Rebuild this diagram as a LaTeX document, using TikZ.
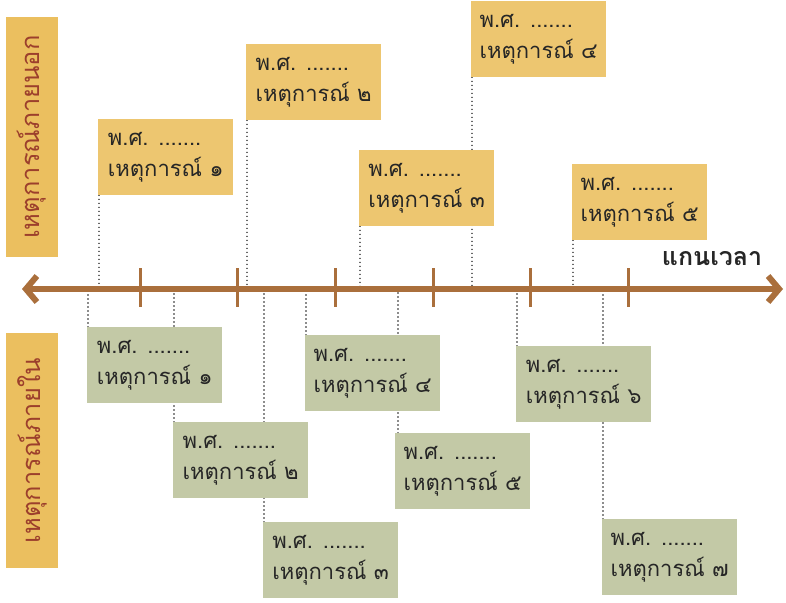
\documentclass[tikz,border=0pt]{standalone}
\usepackage{fontspec}
\newfontfamily\thaifont[Script=Thai]{Loma}
\usetikzlibrary{arrows.meta,backgrounds}

\definecolor{jaune}{HTML}{EDC670}
\definecolor{jauneT}{HTML}{EBBF5F}
\definecolor{vert}{HTML}{C3C9A6}
\definecolor{brun}{HTML}{AA6F3C}
\definecolor{rouille}{HTML}{9C3F2C}

\tikzset{evenement/.style = {fill=#1, anchor=north west,
                             minimum width=135pt, minimum height=76pt,
                             inner xsep=0pt, align=left,
                             text=black!85,
                             font=\thaifont\fontsize{22}{31}\selectfont},
         evenement/.default=jaune,
         pointille/.style = {line width=1.6pt, black!90, line cap=round,
                             dash pattern=on 0pt off 4pt},
         titre/.style = {fill=jauneT, rotate=90, text=rouille,
                         minimum height=52pt,
                         font=\thaifont\fontsize{25.5}{28}\selectfont}
        }

\begin{document}
\begin{tikzpicture}[x=1pt,y=-1pt]
  \useasboundingbox (0,0) rectangle (786,602);
  % titres
  \node[titre, minimum width=240pt] (exterieur) at (32,137) {เหตุการณ์ภายนอก};
  \node[titre, minimum width=235pt] (interieur) at (32,450.5) {เหตุการณ์ภายใน};
  % axe
  \coordinate (axeG) at (22,289);
  \coordinate (axeD) at (783,289);
  \node[font=\thaifont\bfseries\fontsize{25}{28}\selectfont, text=black!85] (nomAxe) at (712,259) {แกนเวลา};
  % evenements exterieurs
  \node[evenement] (h1) at (98,119)  {พ.ศ. .......\\เหตุการณ์ ๑};
  \node[evenement] (h2) at (246,44)  {พ.ศ. .......\\เหตุการณ์ ๒};
  \node[evenement] (h3) at (359,150) {พ.ศ. .......\\เหตุการณ์ ๓};
  \node[evenement] (h4) at (471,1)   {พ.ศ. .......\\เหตุการณ์ ๔};
  \node[evenement] (h5) at (572,164) {พ.ศ. .......\\เหตุการณ์ ๕};
  % evenements interieurs
  \node[evenement=vert] (b1) at (87,327)  {พ.ศ. .......\\เหตุการณ์ ๑};
  \node[evenement=vert] (b2) at (173,422) {พ.ศ. .......\\เหตุการณ์ ๒};
  \node[evenement=vert] (b3) at (263,522) {พ.ศ. .......\\เหตุการณ์ ๓};
  \node[evenement=vert] (b4) at (305,335) {พ.ศ. .......\\เหตุการณ์ ๔};
  \node[evenement=vert] (b5) at (395,433) {พ.ศ. .......\\เหตุการณ์ ๕};
  \node[evenement=vert] (b6) at (516,346) {พ.ศ. .......\\เหตุการณ์ ๖};
  \node[evenement=vert] (b7) at (602,519) {พ.ศ. .......\\เหตุการณ์ ๗};
  % pointilles
  \begin{scope}[on background layer]
    \foreach \e in {h1,h2,h3,h4,h5}
      \draw[pointille] ([xshift=1pt]\e.south west) -- ([xshift=1pt]\e.south west |- axeG);
    \foreach \e in {b1,b2,b3,b4,b6,b7}
      \draw[pointille] ([xshift=1pt]\e.north west) -- ([xshift=1pt]\e.north west |- axeG);
    \draw[pointille] ([xshift=3pt]b5.north west) -- ([xshift=3pt]b5.north west |- axeG);
  \end{scope}
  \draw[brun, line width=6pt,
        {Straight Barb[length=11pt,width=26pt]}-{Straight Barb[length=11pt,width=26pt]}]
        (axeG) -- (axeD);
  \foreach \x in {140,237,335,433,530,628}
    \draw[brun, line width=3pt] (\x,268) -- (\x,307);
\end{tikzpicture}
\end{document}
